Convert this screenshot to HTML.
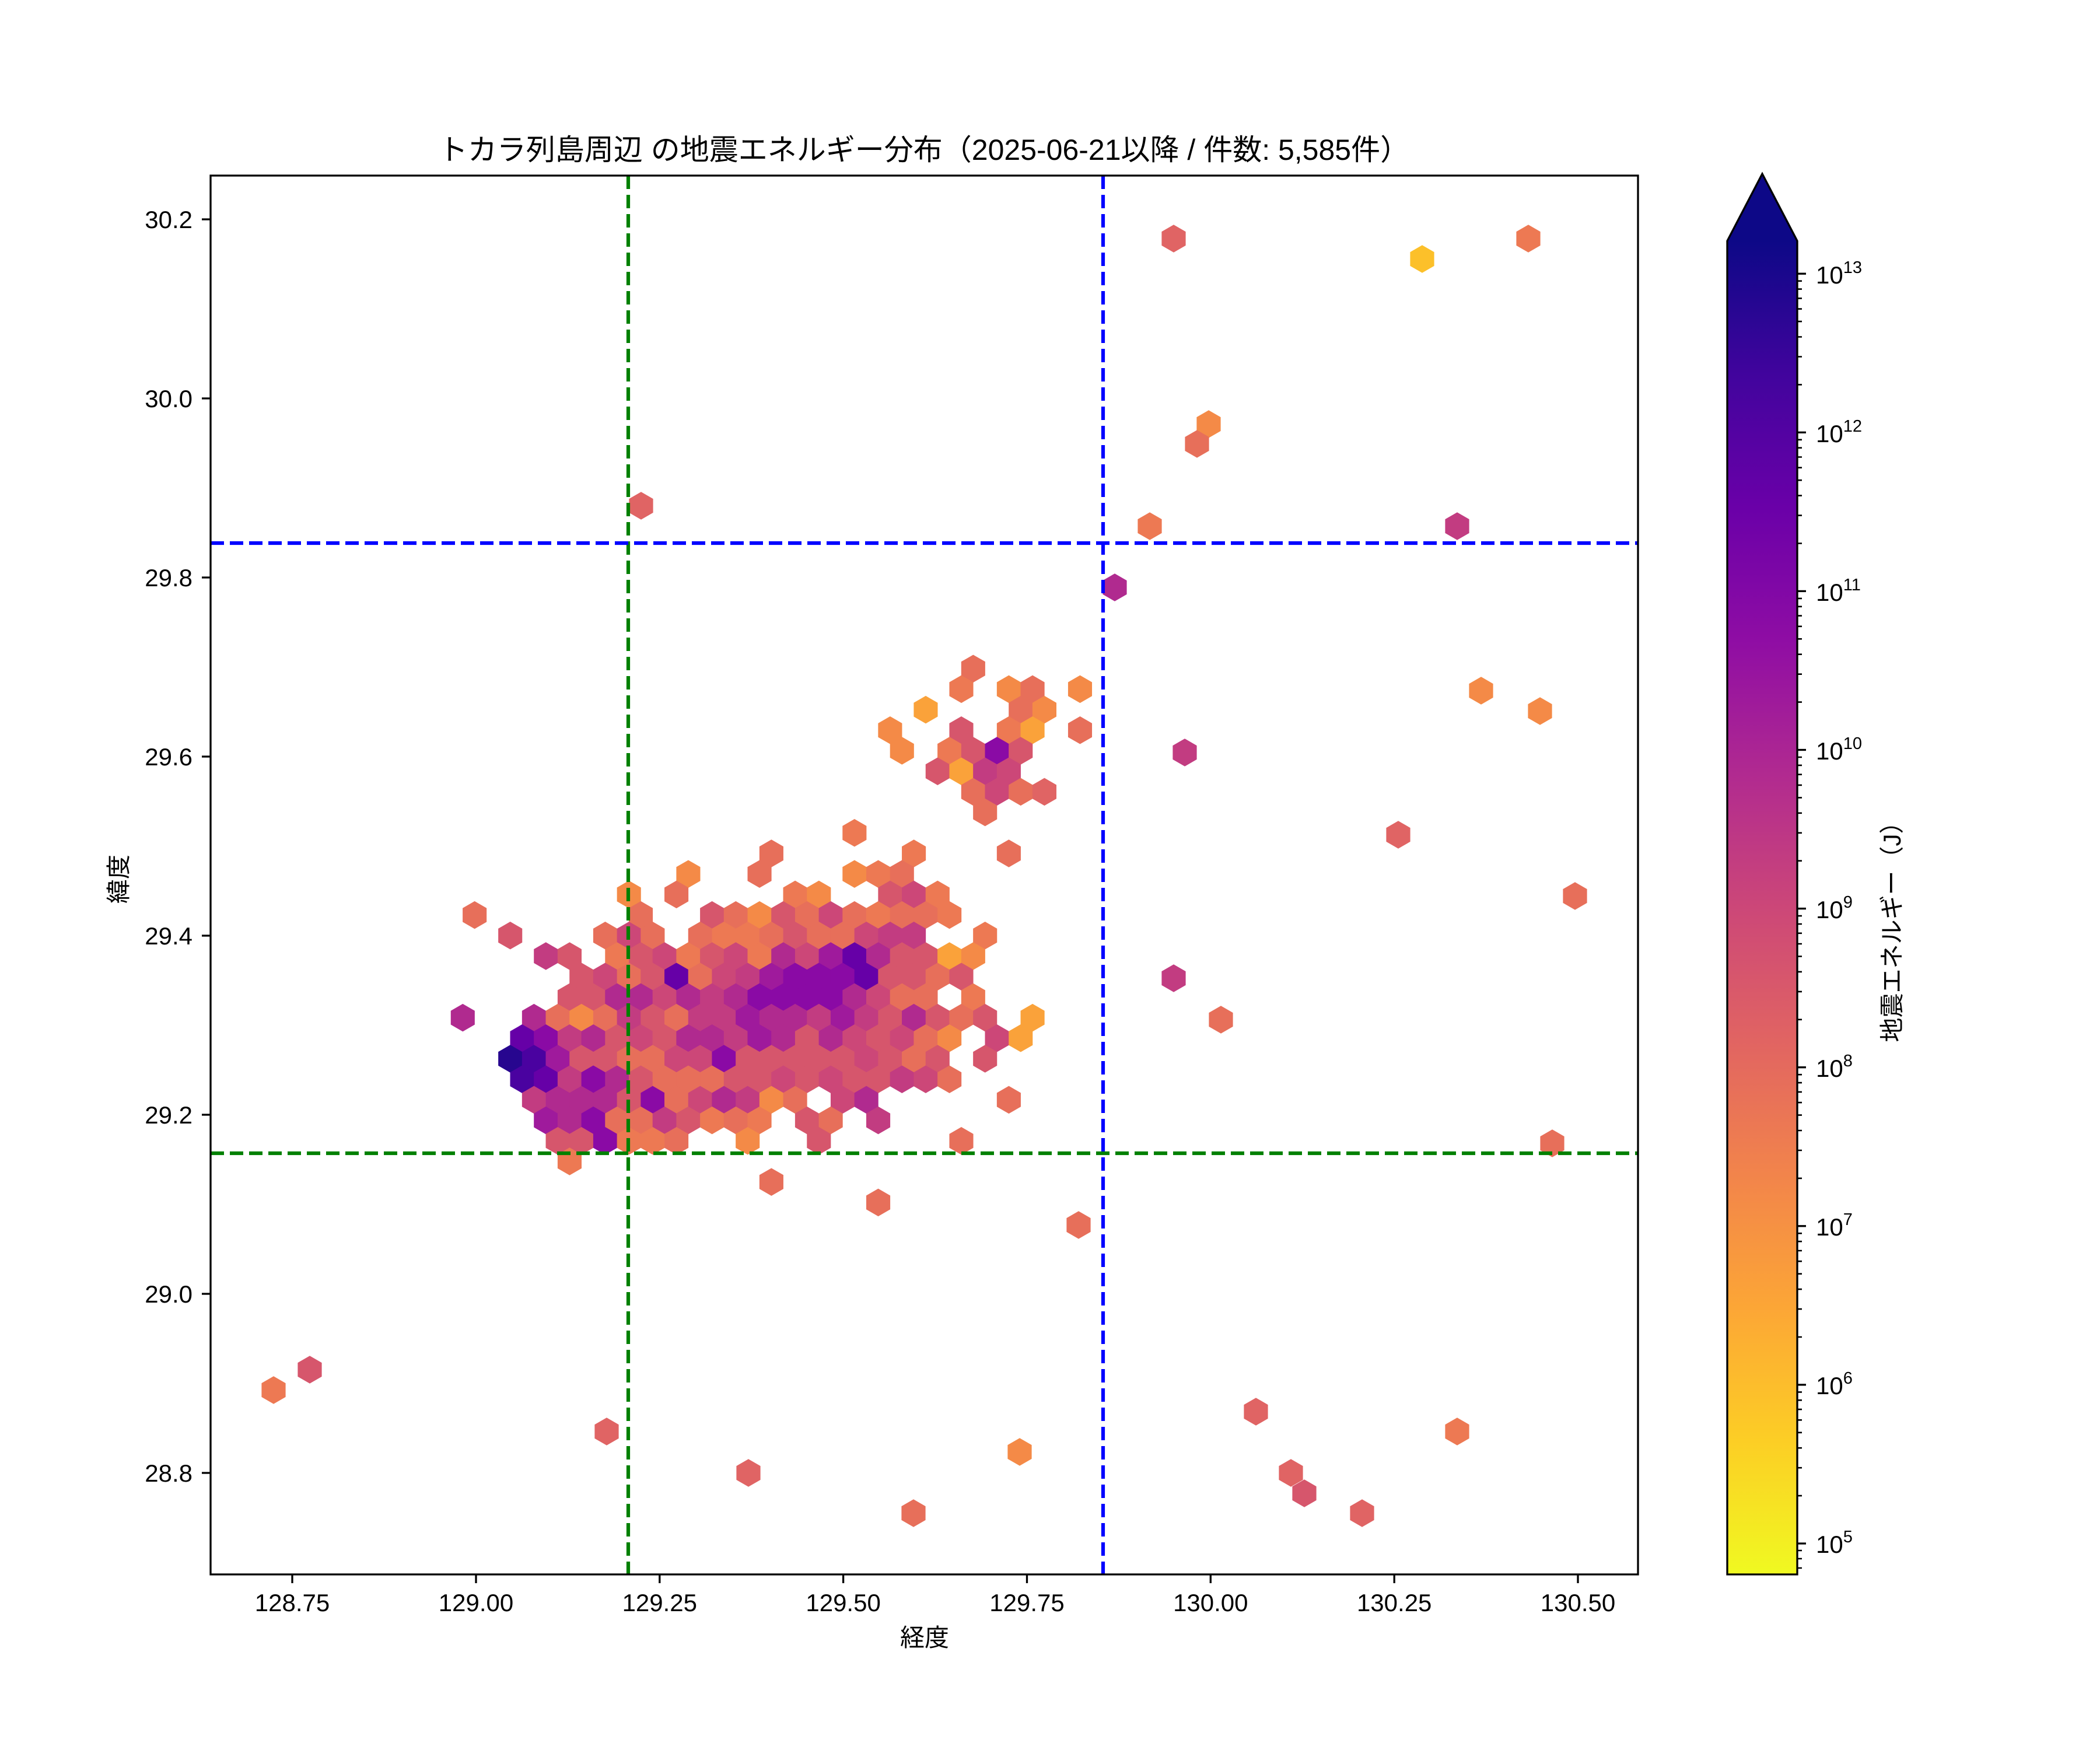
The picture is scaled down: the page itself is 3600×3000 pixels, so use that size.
<!DOCTYPE html>
<html><head><meta charset="utf-8"><style>
html,body{margin:0;padding:0;background:#fff}
svg{display:block}
text{font-family:"Liberation Sans","Noto Sans CJK JP",sans-serif;fill:#000}
.ind{fill:#27068f}.ip{fill:#4a02a0}.dp{fill:#6600a7}.p{fill:#8a0aa5}.pm{fill:#9f1a9c}.m{fill:#b02a8f}
.pk{fill:#c23c81}.pn{fill:#cc4778}.pr{fill:#d6566c}.cr{fill:#e06464}.c{fill:#e76f5a}.co{fill:#ed7953}
.o{fill:#f48a47}.yo{fill:#faa23a}.y{fill:#fcc02a}
</style></head><body>
<svg width="3600" height="3000" viewBox="0 0 3600 3000" xmlns="http://www.w3.org/2000/svg">
<defs>
<polygon id="u" points="0,-0.675 0.505,-0.338 0.505,0.338 0,0.675 -0.505,0.338 -0.505,-0.338"/>
<polygon id="hp" points="0,-23.8 20.6,-11.9 20.6,11.9 0,23.8 -20.6,11.9 -20.6,-11.9"/>
<linearGradient id="cmap" x1="0" y1="1" x2="0" y2="0">
<stop offset="0" stop-color="#f0f921"/><stop offset="0.1" stop-color="#fcce25"/><stop offset="0.2" stop-color="#fca636"/>
<stop offset="0.3" stop-color="#f2844b"/><stop offset="0.4" stop-color="#e16462"/><stop offset="0.5" stop-color="#cc4778"/>
<stop offset="0.6" stop-color="#b12a90"/><stop offset="0.7" stop-color="#8f0da4"/><stop offset="0.8" stop-color="#6a00a8"/>
<stop offset="0.9" stop-color="#41049d"/><stop offset="1" stop-color="#0d0887"/>
</linearGradient>
<path id="minor" d="M0,-81.9h8M0,-129.8h8M0,-163.8h8M0,-190.2h8M0,-211.7h8M0,-229.9h8M0,-245.7h8M0,-259.6h8" stroke="#000" stroke-width="2.6"/>
</defs>

<!-- hexes on lattice -->
<g transform="translate(1078.2,1533.4) scale(40.7,35.2)">
<use href="#u" x="14.5" y="-11" class="c"/>
<use href="#u" x="14" y="-10" class="co"/><use href="#u" x="16" y="-10" class="o"/><use href="#u" x="17" y="-10" class="c"/><use href="#u" x="19" y="-10" class="o"/>
<use href="#u" x="12.5" y="-9" class="yo"/><use href="#u" x="16.5" y="-9" class="c"/><use href="#u" x="17.5" y="-9" class="o"/>
<use href="#u" x="11" y="-8" class="o"/><use href="#u" x="14" y="-8" class="pr"/><use href="#u" x="16" y="-8" class="co"/><use href="#u" x="17" y="-8" class="yo"/><use href="#u" x="19" y="-8" class="c"/>
<use href="#u" x="11.5" y="-7" class="o"/><use href="#u" x="13.5" y="-7" class="co"/><use href="#u" x="14.5" y="-7" class="pr"/><use href="#u" x="15.5" y="-7" class="p"/><use href="#u" x="16.5" y="-7" class="pr"/>
<use href="#u" x="13" y="-6" class="pr"/><use href="#u" x="14" y="-6" class="yo"/><use href="#u" x="15" y="-6" class="pk"/><use href="#u" x="16" y="-6" class="pn"/>
<use href="#u" x="14.5" y="-5" class="c"/><use href="#u" x="15.5" y="-5" class="pn"/><use href="#u" x="16.5" y="-5" class="c"/><use href="#u" x="17.5" y="-5" class="cr"/>
<use href="#u" x="15" y="-4" class="c"/>
<use href="#u" x="9.5" y="-3" class="co"/>
<use href="#u" x="6" y="-2" class="c"/><use href="#u" x="12" y="-2" class="co"/><use href="#u" x="16" y="-2" class="c"/>
<use href="#u" x="2.5" y="-1" class="o"/><use href="#u" x="5.5" y="-1" class="c"/><use href="#u" x="9.5" y="-1" class="o"/><use href="#u" x="10.5" y="-1" class="co"/><use href="#u" x="11.5" y="-1" class="c"/>
<use href="#u" x="0" y="0" class="o"/><use href="#u" x="2" y="0" class="c"/><use href="#u" x="7" y="0" class="co"/><use href="#u" x="8" y="0" class="o"/><use href="#u" x="11" y="0" class="pr"/><use href="#u" x="12" y="0" class="pn"/><use href="#u" x="13" y="0" class="co"/>
<use href="#u" x="-6.5" y="1" class="c"/><use href="#u" x="0.5" y="1" class="c"/><use href="#u" x="3.5" y="1" class="pr"/><use href="#u" x="4.5" y="1" class="c"/><use href="#u" x="5.5" y="1" class="o"/><use href="#u" x="6.5" y="1" class="pr"/><use href="#u" x="7.5" y="1" class="c"/><use href="#u" x="8.5" y="1" class="pn"/><use href="#u" x="9.5" y="1" class="c"/><use href="#u" x="10.5" y="1" class="co"/><use href="#u" x="11.5" y="1" class="c"/><use href="#u" x="12.5" y="1" class="c"/><use href="#u" x="13.5" y="1" class="co"/>
<use href="#u" x="-5" y="2" class="pr"/><use href="#u" x="-1" y="2" class="c"/><use href="#u" x="0" y="2" class="pn"/><use href="#u" x="1" y="2" class="c"/><use href="#u" x="3" y="2" class="c"/><use href="#u" x="4" y="2" class="co"/><use href="#u" x="5" y="2" class="co"/><use href="#u" x="6" y="2" class="c"/><use href="#u" x="7" y="2" class="pr"/><use href="#u" x="8" y="2" class="c"/><use href="#u" x="9" y="2" class="c"/><use href="#u" x="10" y="2" class="pn"/><use href="#u" x="11" y="2" class="pk"/><use href="#u" x="12" y="2" class="pk"/><use href="#u" x="15" y="2" class="co"/>
<use href="#u" x="-3.5" y="3" class="pk"/><use href="#u" x="-2.5" y="3" class="pr"/><use href="#u" x="-0.5" y="3" class="co"/><use href="#u" x="0.5" y="3" class="pr"/><use href="#u" x="1.5" y="3" class="pn"/><use href="#u" x="2.5" y="3" class="co"/><use href="#u" x="3.5" y="3" class="pr"/><use href="#u" x="4.5" y="3" class="pn"/><use href="#u" x="5.5" y="3" class="co"/><use href="#u" x="6.5" y="3" class="m"/><use href="#u" x="7.5" y="3" class="pn"/><use href="#u" x="8.5" y="3" class="pm"/><use href="#u" x="9.5" y="3" class="dp"/><use href="#u" x="10.5" y="3" class="m"/><use href="#u" x="11.5" y="3" class="pr"/><use href="#u" x="12.5" y="3" class="pr"/><use href="#u" x="13.5" y="3" class="yo"/><use href="#u" x="14.5" y="3" class="o"/>
<use href="#u" x="-2" y="4" class="pr"/><use href="#u" x="-1" y="4" class="pn"/><use href="#u" x="0" y="4" class="c"/><use href="#u" x="1" y="4" class="pr"/><use href="#u" x="2" y="4" class="dp"/><use href="#u" x="3" y="4" class="c"/><use href="#u" x="4" y="4" class="pn"/><use href="#u" x="5" y="4" class="pk"/><use href="#u" x="6" y="4" class="pm"/><use href="#u" x="7" y="4" class="p"/><use href="#u" x="8" y="4" class="p"/><use href="#u" x="9" y="4" class="p"/><use href="#u" x="10" y="4" class="dp"/><use href="#u" x="11" y="4" class="pr"/><use href="#u" x="12" y="4" class="pr"/><use href="#u" x="13" y="4" class="c"/><use href="#u" x="14" y="4" class="pr"/>
<use href="#u" x="-2.5" y="5" class="pr"/><use href="#u" x="-1.5" y="5" class="pr"/><use href="#u" x="-0.5" y="5" class="m"/><use href="#u" x="0.5" y="5" class="m"/><use href="#u" x="1.5" y="5" class="pn"/><use href="#u" x="2.5" y="5" class="m"/><use href="#u" x="3.5" y="5" class="pk"/><use href="#u" x="4.5" y="5" class="m"/><use href="#u" x="5.5" y="5" class="p"/><use href="#u" x="6.5" y="5" class="p"/><use href="#u" x="7.5" y="5" class="p"/><use href="#u" x="8.5" y="5" class="p"/><use href="#u" x="9.5" y="5" class="m"/><use href="#u" x="10.5" y="5" class="pn"/><use href="#u" x="11.5" y="5" class="c"/><use href="#u" x="12.5" y="5" class="c"/><use href="#u" x="14.5" y="5" class="co"/>
<use href="#u" x="-7" y="6" class="m"/><use href="#u" x="-4" y="6" class="m"/><use href="#u" x="-3" y="6" class="c"/><use href="#u" x="-2" y="6" class="o"/><use href="#u" x="-1" y="6" class="c"/><use href="#u" x="0" y="6" class="pk"/><use href="#u" x="1" y="6" class="pr"/><use href="#u" x="2" y="6" class="c"/><use href="#u" x="3" y="6" class="pk"/><use href="#u" x="4" y="6" class="pk"/><use href="#u" x="5" y="6" class="pm"/><use href="#u" x="6" y="6" class="m"/><use href="#u" x="7" y="6" class="m"/><use href="#u" x="8" y="6" class="pk"/><use href="#u" x="9" y="6" class="pm"/><use href="#u" x="10" y="6" class="pk"/><use href="#u" x="11" y="6" class="pr"/><use href="#u" x="12" y="6" class="m"/><use href="#u" x="13" y="6" class="pr"/><use href="#u" x="14" y="6" class="c"/><use href="#u" x="15" y="6" class="pr"/><use href="#u" x="17" y="6" class="yo"/>
<use href="#u" x="-4.5" y="7" class="dp"/><use href="#u" x="-3.5" y="7" class="p"/><use href="#u" x="-2.5" y="7" class="pk"/><use href="#u" x="-1.5" y="7" class="m"/><use href="#u" x="-0.5" y="7" class="pr"/><use href="#u" x="0.5" y="7" class="pn"/><use href="#u" x="1.5" y="7" class="pr"/><use href="#u" x="2.5" y="7" class="m"/><use href="#u" x="3.5" y="7" class="m"/><use href="#u" x="4.5" y="7" class="pk"/><use href="#u" x="5.5" y="7" class="pm"/><use href="#u" x="6.5" y="7" class="m"/><use href="#u" x="7.5" y="7" class="pr"/><use href="#u" x="8.5" y="7" class="m"/><use href="#u" x="9.5" y="7" class="pn"/><use href="#u" x="10.5" y="7" class="pr"/><use href="#u" x="11.5" y="7" class="pn"/><use href="#u" x="12.5" y="7" class="c"/><use href="#u" x="13.5" y="7" class="o"/><use href="#u" x="15.5" y="7" class="pn"/><use href="#u" x="16.5" y="7" class="yo"/>
<use href="#u" x="-5" y="8" class="ind"/><use href="#u" x="-4" y="8" class="ip"/><use href="#u" x="-3" y="8" class="pm"/><use href="#u" x="-2" y="8" class="pr"/><use href="#u" x="-1" y="8" class="pr"/><use href="#u" x="0" y="8" class="c"/><use href="#u" x="1" y="8" class="c"/><use href="#u" x="2" y="8" class="pn"/><use href="#u" x="3" y="8" class="pn"/><use href="#u" x="4" y="8" class="p"/><use href="#u" x="5" y="8" class="pr"/><use href="#u" x="6" y="8" class="pr"/><use href="#u" x="7" y="8" class="pr"/><use href="#u" x="8" y="8" class="pr"/><use href="#u" x="9" y="8" class="pr"/><use href="#u" x="10" y="8" class="pn"/><use href="#u" x="11" y="8" class="pr"/><use href="#u" x="12" y="8" class="c"/><use href="#u" x="13" y="8" class="pr"/><use href="#u" x="15" y="8" class="pr"/>
<use href="#u" x="-4.5" y="9" class="ip"/><use href="#u" x="-3.5" y="9" class="dp"/><use href="#u" x="-2.5" y="9" class="pk"/><use href="#u" x="-1.5" y="9" class="p"/><use href="#u" x="-0.5" y="9" class="m"/><use href="#u" x="0.5" y="9" class="pr"/><use href="#u" x="1.5" y="9" class="c"/><use href="#u" x="2.5" y="9" class="c"/><use href="#u" x="3.5" y="9" class="c"/><use href="#u" x="4.5" y="9" class="pr"/><use href="#u" x="5.5" y="9" class="pr"/><use href="#u" x="6.5" y="9" class="pn"/><use href="#u" x="7.5" y="9" class="pr"/><use href="#u" x="8.5" y="9" class="pn"/><use href="#u" x="9.5" y="9" class="pr"/><use href="#u" x="10.5" y="9" class="pr"/><use href="#u" x="11.5" y="9" class="pk"/><use href="#u" x="12.5" y="9" class="pn"/><use href="#u" x="13.5" y="9" class="c"/>
<use href="#u" x="-4" y="10" class="pk"/><use href="#u" x="-3" y="10" class="m"/><use href="#u" x="-2" y="10" class="m"/><use href="#u" x="-1" y="10" class="m"/><use href="#u" x="0" y="10" class="pr"/><use href="#u" x="1" y="10" class="p"/><use href="#u" x="2" y="10" class="c"/><use href="#u" x="3" y="10" class="pn"/><use href="#u" x="4" y="10" class="m"/><use href="#u" x="5" y="10" class="pk"/><use href="#u" x="6" y="10" class="o"/><use href="#u" x="7" y="10" class="c"/><use href="#u" x="9" y="10" class="pn"/><use href="#u" x="10" y="10" class="m"/><use href="#u" x="16" y="10" class="c"/>
<use href="#u" x="-3.5" y="11" class="pm"/><use href="#u" x="-2.5" y="11" class="m"/><use href="#u" x="-1.5" y="11" class="p"/><use href="#u" x="-0.5" y="11" class="c"/><use href="#u" x="0.5" y="11" class="c"/><use href="#u" x="1.5" y="11" class="pk"/><use href="#u" x="2.5" y="11" class="pr"/><use href="#u" x="3.5" y="11" class="co"/><use href="#u" x="4.5" y="11" class="c"/><use href="#u" x="5.5" y="11" class="co"/><use href="#u" x="7.5" y="11" class="pr"/><use href="#u" x="8.5" y="11" class="c"/><use href="#u" x="10.5" y="11" class="pk"/>
<use href="#u" x="-3" y="12" class="pr"/><use href="#u" x="-2" y="12" class="pr"/><use href="#u" x="-1" y="12" class="p"/><use href="#u" x="0" y="12" class="co"/><use href="#u" x="1" y="12" class="co"/><use href="#u" x="2" y="12" class="c"/><use href="#u" x="5" y="12" class="o"/><use href="#u" x="8" y="12" class="pr"/><use href="#u" x="14" y="12" class="c"/>
<use href="#u" x="-2.5" y="13" class="co"/>
<use href="#u" x="6" y="14" class="c"/>
<use href="#u" x="10.5" y="15" class="c"/>
</g>

<!-- outlier hexes -->
<use href="#hp" x="2012" y="409" class="cr"/><use href="#hp" x="2438" y="444" class="y"/><use href="#hp" x="2620" y="409" class="co"/>
<use href="#hp" x="2072" y="727" class="o"/><use href="#hp" x="2052" y="761" class="c"/><use href="#hp" x="1099" y="867" class="cr"/>
<use href="#hp" x="1971" y="902" class="co"/><use href="#hp" x="2498" y="902" class="pk"/><use href="#hp" x="1911" y="1007" class="m"/>
<use href="#hp" x="2539" y="1184" class="o"/><use href="#hp" x="2640" y="1219" class="o"/><use href="#hp" x="2031" y="1290" class="pk"/>
<use href="#hp" x="2397" y="1431" class="cr"/><use href="#hp" x="2700" y="1536" class="c"/><use href="#hp" x="2012" y="1677" class="pk"/>
<use href="#hp" x="2093" y="1748" class="c"/><use href="#hp" x="2661" y="1960" class="c"/><use href="#hp" x="1849" y="2100" class="c"/>
<use href="#hp" x="531" y="2348" class="pr"/><use href="#hp" x="469" y="2383" class="co"/><use href="#hp" x="1040" y="2454" class="cr"/>
<use href="#hp" x="2153" y="2420" class="cr"/><use href="#hp" x="2498" y="2454" class="co"/><use href="#hp" x="1748" y="2489" class="o"/>
<use href="#hp" x="1283" y="2525" class="cr"/><use href="#hp" x="2213" y="2525" class="cr"/><use href="#hp" x="2236" y="2560" class="pr"/>
<use href="#hp" x="1566" y="2594" class="c"/><use href="#hp" x="2335" y="2594" class="cr"/>

<!-- dashed lines -->
<g stroke-width="6.2" stroke-dasharray="23,10" fill="none">
<line x1="1077" y1="301" x2="1077" y2="2699" stroke="#008000"/>
<line x1="361" y1="1977" x2="2808" y2="1977" stroke="#008000"/>
<line x1="1891" y1="301" x2="1891" y2="2699" stroke="#0000ff"/>
<line x1="361" y1="931" x2="2808" y2="931" stroke="#0000ff"/>
</g>

<!-- axes frame -->
<rect x="361" y="301" width="2447" height="2398" fill="none" stroke="#000" stroke-width="3.3"/>
<g stroke="#000" stroke-width="3.3">
<line x1="501" y1="2699" x2="501" y2="2714"/><line x1="816" y1="2699" x2="816" y2="2714"/><line x1="1130.8" y1="2699" x2="1130.8" y2="2714"/><line x1="1445.6" y1="2699" x2="1445.6" y2="2714"/>
<line x1="1760.5" y1="2699" x2="1760.5" y2="2714"/><line x1="2075.3" y1="2699" x2="2075.3" y2="2714"/><line x1="2390.2" y1="2699" x2="2390.2" y2="2714"/><line x1="2705" y1="2699" x2="2705" y2="2714"/>
<line x1="346" y1="376" x2="361" y2="376"/><line x1="346" y1="683" x2="361" y2="683"/><line x1="346" y1="990" x2="361" y2="990"/><line x1="346" y1="1297" x2="361" y2="1297"/>
<line x1="346" y1="1604" x2="361" y2="1604"/><line x1="346" y1="1911" x2="361" y2="1911"/><line x1="346" y1="2218" x2="361" y2="2218"/><line x1="346" y1="2525" x2="361" y2="2525"/>
</g>
<g font-size="42" text-anchor="middle">
<text x="501" y="2762">128.75</text><text x="816" y="2762">129.00</text><text x="1130.8" y="2762">129.25</text><text x="1445.6" y="2762">129.50</text>
<text x="1760.5" y="2762">129.75</text><text x="2075.3" y="2762">130.00</text><text x="2390.2" y="2762">130.25</text><text x="2705" y="2762">130.50</text>
</g>
<g font-size="42" text-anchor="end">
<text x="330" y="391">30.2</text><text x="330" y="698">30.0</text><text x="330" y="1005">29.8</text><text x="330" y="1312">29.6</text>
<text x="330" y="1619">29.4</text><text x="330" y="1926">29.2</text><text x="330" y="2233">29.0</text><text x="330" y="2540">28.8</text>
</g>
<text x="1584" y="274" font-size="50" text-anchor="middle">トカラ列島周辺 の地震エネルギー分布（2025-06-21以降 / 件数: 5,585件）</text>
<text x="1585" y="2822" font-size="42" text-anchor="middle">経度</text>
<text transform="translate(218,1507) rotate(-90)" font-size="42" text-anchor="middle">緯度</text>

<!-- colorbar -->
<rect x="2961" y="413" width="120" height="2286" fill="url(#cmap)"/>
<polygon points="2961,413 3021,298 3081,413" fill="#0d0887"/>
<path d="M2961,413 L3021,298 L3081,413 L3081,2699 L2961,2699 Z" fill="none" stroke="#000" stroke-width="3.3"/>
<g stroke="#000" stroke-width="3.3">
<line x1="3081" y1="2646" x2="3096" y2="2646"/><line x1="3081" y1="2373.9" x2="3096" y2="2373.9"/><line x1="3081" y1="2101.8" x2="3096" y2="2101.8"/>
<line x1="3081" y1="1829.7" x2="3096" y2="1829.7"/><line x1="3081" y1="1557.6" x2="3096" y2="1557.6"/><line x1="3081" y1="1285.5" x2="3096" y2="1285.5"/>
<line x1="3081" y1="1013.4" x2="3096" y2="1013.4"/><line x1="3081" y1="741.3" x2="3096" y2="741.3"/><line x1="3081" y1="469.2" x2="3096" y2="469.2"/>
</g>
<use href="#minor" x="3081" y="2646"/><use href="#minor" x="3081" y="2373.9"/><use href="#minor" x="3081" y="2101.8"/><use href="#minor" x="3081" y="1829.7"/>
<use href="#minor" x="3081" y="1557.6"/><use href="#minor" x="3081" y="1285.5"/><use href="#minor" x="3081" y="1013.4"/><use href="#minor" x="3081" y="741.3"/>
<path d="M3081,2658h8M3081,2672h8M3081,2688h8" stroke="#000" stroke-width="2.6"/>
<g font-size="42">
<text x="3113" y="2662">10<tspan font-size="29" dy="-18">5</tspan></text>
<text x="3113" y="2390">10<tspan font-size="29" dy="-18">6</tspan></text>
<text x="3113" y="2118">10<tspan font-size="29" dy="-18">7</tspan></text>
<text x="3113" y="1846">10<tspan font-size="29" dy="-18">8</tspan></text>
<text x="3113" y="1574">10<tspan font-size="29" dy="-18">9</tspan></text>
<text x="3113" y="1302">10<tspan font-size="29" dy="-18">10</tspan></text>
<text x="3113" y="1030">10<tspan font-size="29" dy="-18">11</tspan></text>
<text x="3113" y="758">10<tspan font-size="29" dy="-18">12</tspan></text>
<text x="3113" y="486">10<tspan font-size="29" dy="-18">13</tspan></text>
</g>
<text transform="translate(3258,1587) rotate(-90)" font-size="42" text-anchor="middle">地震エネルギー（J）</text>
</svg>
</body></html>
